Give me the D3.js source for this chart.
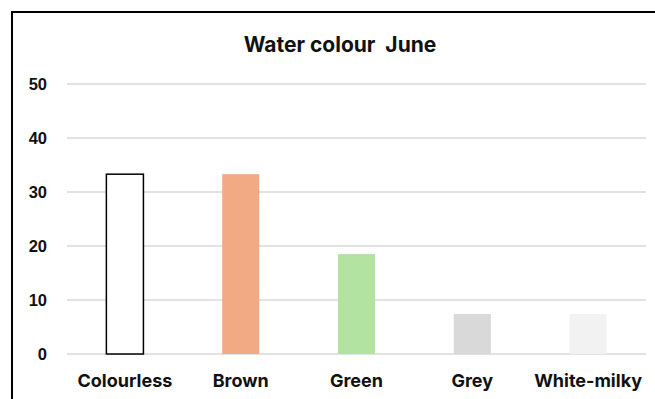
<!DOCTYPE html>
<html>
<head>
<meta charset="utf-8">
<script src="https://cdn.jsdelivr.net/npm/d3@7"></script>
<style>
  html, body { margin: 0; padding: 0; background: #fff; }
  svg { display: block; }
</style>
</head>
<body>
<script>
// Water colour survey, June (percent of samples)
const categories = ["Colourless", "Brown", "Green", "Grey", "White-milky"];
const values = [33.3, 33.3, 18.5, 7.4, 7.4];
const fills = ["#ffffff", "#f1aa84", "#b3e3a0", "#d9d9d9", "#f2f2f2"];
const strokes = ["#000000", "none", "none", "none", "none"];
const yTicks = [0, 10, 20, 30, 40, 50];
const title = "Water colour\u00a0 June";

const W = 655, H = 399;
const margin = { left: 67, right: 9, top: 84, bottom: 45 };

const svg = d3.select("body").append("svg")
  .attr("width", W).attr("height", H);

// frame lines (top and left)
svg.append("line").attr("x1", 12).attr("x2", W).attr("y1", 12).attr("y2", 12)
  .attr("stroke", "#000").attr("stroke-width", 2);
svg.append("line").attr("x1", 12).attr("x2", 12).attr("y1", 11).attr("y2", H)
  .attr("stroke", "#000").attr("stroke-width", 2);

const x = d3.scaleBand()
  .domain(categories)
  .range([margin.left, W - margin.right])
  .paddingInner(0.68).paddingOuter(0.34);

const y = d3.scaleLinear()
  .domain([0, 50])
  .range([H - margin.bottom, margin.top]);

// gridlines
svg.append("g").selectAll("line").data(yTicks).join("line")
  .attr("x1", margin.left).attr("x2", W - margin.right)
  .attr("y1", d => y(d)).attr("y2", d => y(d))
  .attr("stroke", "#d9d9d9").attr("stroke-width", 1.3);

// y tick labels
svg.append("g").selectAll("text").data(yTicks).join("text")
  .attr("x", 47).attr("y", d => y(d))
  .attr("dy", "0.36em")
  .attr("text-anchor", "end")
  .attr("font-family", "Liberation Sans, Arial, sans-serif")
  .attr("font-weight", "bold").attr("font-size", 16.5)
  .attr("fill", "#111")
  .text(d => d);

// bars
svg.append("g").selectAll("rect").data(categories).join("rect")
  .attr("x", d => x(d))
  .attr("width", x.bandwidth())
  .attr("y", (d, i) => y(values[i]))
  .attr("height", (d, i) => y(0) - y(values[i]))
  .attr("fill", (d, i) => fills[i])
  .attr("stroke", (d, i) => strokes[i])
  .attr("stroke-width", 1.5);

// category labels
svg.append("g").selectAll("text").data(categories).join("text")
  .attr("x", d => x(d) + x.bandwidth() / 2)
  .attr("y", 387)
  .attr("text-anchor", "middle")
  .attr("font-family", "Inter, sans-serif")
  .attr("font-weight", "bold").attr("font-size", 18)
  .attr("fill", "#111")
  .text(d => d);

// title
svg.append("text")
  .attr("x", 340).attr("y", 52)
  .attr("text-anchor", "middle")
  .attr("font-family", "Inter, sans-serif")
  .attr("font-weight", "bold").attr("font-size", 21)
  .attr("fill", "#111")
  .text(title);
</script>
</body>
</html>
